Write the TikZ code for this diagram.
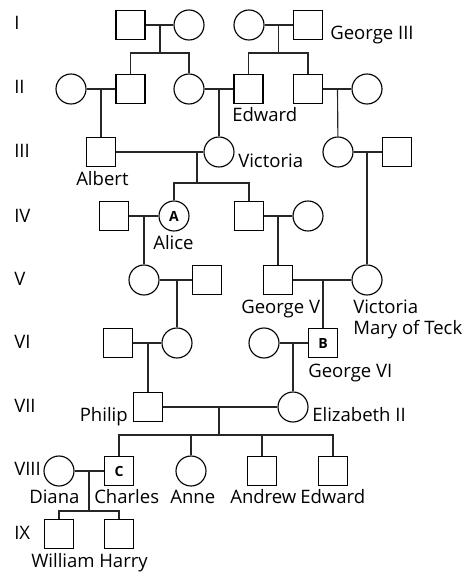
\documentclass[tikz,border=0pt]{standalone}
\usepackage{fontspec}
\setmainfont{Open Sans}
\usepackage{tikz}
\usetikzlibrary{backgrounds}

\tikzset{
  male/.style={draw, rectangle, line width=0.85pt, minimum size=21.75pt, inner sep=0pt, fill=white},
  female/.style={draw, circle, line width=0.85pt, minimum size=22.5pt, inner sep=0pt, fill=white},
  carrier/.style={font=\bfseries\fontsize{10.5}{12}\selectfont},
  lbl/.style={anchor=base west, inner sep=0pt, font=\fontsize{13.9}{15.75}\selectfont, align=left},
  genlbl/.style={anchor=base west, inner sep=0pt, font=\fontsize{13.9}{15.75}\selectfont},
  link/.style={line width=0.85pt, draw=black!85}
}

\begin{document}
\begin{tikzpicture}[x=0.75pt,y=0.75pt,yscale=-1]
\useasboundingbox (0,0) rectangle (472,581);

%Shapes: generation I
\node [male]   (m1)     at (130.5,25) {};
\node [female] (f1)     at (189,25)   {};
\node [female] (f2)     at (249,25)   {};
\node [male]   (george3) at (308,25)  {};
%Shapes: generation II
\node [female] (f3)     at (71,89)    {};
\node [male]   (m2)     at (130.5,89) {};
\node [female] (f4)     at (189,89)   {};
\node [male]   (edward1) at (248.5,89) {};
\node [male]   (m3)     at (308,89)   {};
\node [female] (f5)     at (367,89)   {};
%Shapes: generation III
\node [male]   (albert)   at (101,152) {};
\node [female] (victoria) at (219,152) {};
\node [female] (f6)       at (338,152) {};
\node [male]   (m4)       at (397,152) {};
%Shapes: generation IV
\node [male]   (m5)    at (114,216) {};
\node [female, carrier] (alice) at (174,216) {A};
\node [male]   (m6)    at (249,216) {};
\node [female] (f7)    at (308,216) {};
%Shapes: generation V
\node [female] (f8)      at (144,280) {};
\node [male]   (m7)      at (207,280) {};
\node [male]   (george5) at (278,280) {};
\node [female] (vmary)   at (367,280) {};
%Shapes: generation VI
\node [male]   (m8)      at (118,343) {};
\node [female] (f9)      at (177,343) {};
\node [female] (f10)     at (264,343) {};
\node [male, carrier] (george6) at (323,343) {B};
%Shapes: generation VII
\node [male]   (philip)    at (148,407) {};
\node [female] (elizabeth) at (293,407) {};
%Shapes: generation VIII
\node [female] (diana)   at (59,471)  {};
\node [male, carrier] (charles) at (119,471) {C};
\node [female] (anne)    at (191,471) {};
\node [male]   (andrew)  at (262,471) {};
\node [male]   (edward2) at (333,471) {};
%Shapes: generation IX
\node [male]   (william) at (59,534)  {};
\node [male]   (harry)   at (119,534) {};

%Coordinates: marriage points and sibling bars
\coordinate (c1) at (160,25);   \coordinate (s1) at (160,53);
\coordinate (c2) at (278.5,25); \coordinate (s2) at (278.5,53);
\coordinate (c3) at (101,89);
\coordinate (c4) at (219,89);
\coordinate (c5) at (337.5,89);
\coordinate (c6) at (197,152);  \coordinate (s6) at (197,183);
\coordinate (c7) at (367,152);
\coordinate (c8) at (144,216);
\coordinate (c9) at (278,216);
\coordinate (c10) at (177,280);
\coordinate (c11) at (323,280);
\coordinate (c12) at (148,343);
\coordinate (c13) at (293,343);
\coordinate (c14) at (219,407); \coordinate (s14) at (219,435);
\coordinate (c15) at (89,471);  \coordinate (s15) at (89,511);

\begin{scope}[on background layer]
%Straight Lines: couples
\draw [link] (m1) -- (f1);
\draw [link] (f2) -- (george3);
\draw [link] (f3) -- (m2);
\draw [link] (f4) -- (edward1);
\draw [link] (m3) -- (f5);
\draw [link] (albert) -- (victoria);
\draw [link] (f6) -- (m4);
\draw [link] (m5) -- (alice);
\draw [link] (m6) -- (f7);
\draw [link] (f8) -- (m7);
\draw [link] (george5) -- (vmary);
\draw [link] (m8) -- (f9);
\draw [link] (f10) -- (george6);
\draw [link] (philip) -- (elizabeth);
\draw [link] (diana) -- (charles);

%Straight Lines: descent
\draw [link] (c1) -- (s1);
\draw [link] (m2) |- (s1) -| (f4);
\draw [link] (c2) -- (s2);
\draw [link] (edward1) |- (s2) -| (m3);
\draw [link] (c3) -- (albert);
\draw [link] (c4) -- (victoria);
\draw [link] (c5) -- (f6);
\draw [link] (c6) -- (s6);
\draw [link] (alice) |- (s6) -| (m6);
\draw [link] (c7) -- (vmary);
\draw [link] (c8) -- (f8);
\draw [link] (c9) -- (george5);
\draw [link] (c10) -- (f9);
\draw [link] (c11) -- (george6);
\draw [link] (c12) -- (philip);
\draw [link] (c13) -- (elizabeth);
\draw [link] (c14) -- (s14);
\draw [link] (charles) |- (s14) -| (edward2);
\draw [link] (anne) -- (anne |- s14);
\draw [link] (andrew) -- (andrew |- s14);
\draw [link] (c15) -- (s15);
\draw [link] (william) |- (s15) -| (harry);
\end{scope}

% Text Node: generations
\node [genlbl] (g1) at (14,30)  {I};
\node [genlbl] (g2) at (14,94)  {II};
\node [genlbl] (g3) at (14,157) {III};
\node [genlbl] (g4) at (14,222) {IV};
\node [genlbl] (g5) at (14,285) {V};
\node [genlbl] (g6) at (14,348) {VI};
\node [genlbl] (g7) at (14,412) {VII};
\node [genlbl] (g8) at (14,475) {VIII};
\node [genlbl] (g9) at (14,539) {IX};

% Text Node: names
\node [lbl] (lgeorge3)  at (330,40)    {George III};
\node [lbl] (ledward1)  at (232,121.5) {Edward};
\node [lbl] (lvictoria) at (238,167)   {Victoria};
\node [lbl] (lalbert)   at (76,185)    {Albert};
\node [lbl] (lalice)    at (153,249)   {Alice};
\node [lbl] (lgeorge5)  at (241,313)   {George V};
\node [lbl] (lvmary)    at (353,334)   {Victoria\\Mary of Teck};
\node [lbl] (lgeorge6)  at (308,377)   {George VI};
\node [lbl, anchor=base east] (lphilip) at (128,421.5) {Philip};
\node [lbl] (lelizabeth) at (312,421.5) {Elizabeth II};
\node [lbl] (ldiana)    at (29,503)    {Diana};
\node [lbl] (lcharles)  at (94,503)    {Charles};
\node [lbl] (lanne)     at (170,503)   {Anne};
\node [lbl] (landrew)   at (230,503)   {Andrew};
\node [lbl] (ledward2)  at (300,503)   {Edward};
\node [lbl] (lwilliam)  at (31,567.5)  {William};
\node [lbl] (lharry)    at (99,567.5)  {Harry};

\end{tikzpicture}
\end{document}
